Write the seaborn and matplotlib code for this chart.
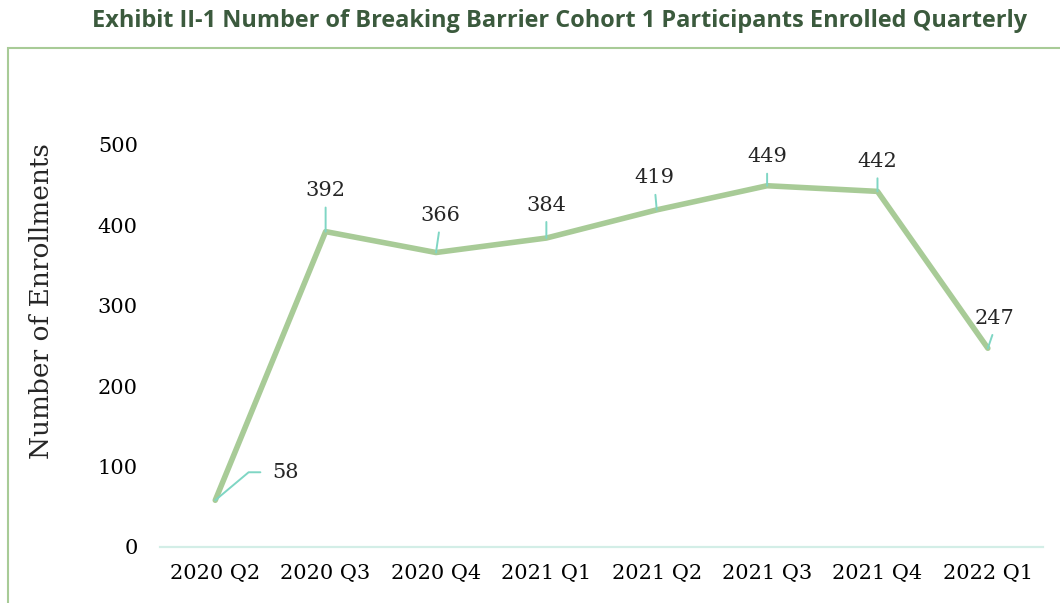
import pandas as pd
import matplotlib
matplotlib.use('Agg')
import matplotlib.pyplot as plt
from matplotlib.patches import Rectangle
import seaborn as sns

quarters = ['2020 Q2', '2020 Q3', '2020 Q4', '2021 Q1',
            '2021 Q2', '2021 Q3', '2021 Q4', '2022 Q1']
enrollments = [58, 392, 366, 384, 419, 449, 442, 247]
y_ticks = [0, 100, 200, 300, 400, 500]

# label offsets in pixels (dx, dy) from each point
label_offsets = [(70, 28), (0, 41), (4, 37), (0, 33), (-2, 32), (0, 29), (0, 30), (7, 30)]

LINE_GREEN = '#a8cb97'
LEADER = '#7fd6c4'
TITLE_GREEN = '#3b5a3d'


def make_plot():
    sns.set_theme(style='white')
    plt.rcParams['font.family'] = ['DejaVu Serif']

    df = pd.DataFrame({'quarter': quarters, 'enrollments': enrollments})

    fig = plt.figure(figsize=(10.6, 6.03), dpi=100)
    ax = fig.add_axes([0.151, 0.093, 0.833, 0.667])

    sns.lineplot(data=df, x='quarter', y='enrollments', ax=ax, color=LINE_GREEN,
                 linewidth=4, sort=False, solid_capstyle='round', solid_joinstyle='round')

    for i, (q, v) in enumerate(zip(quarters, enrollments)):
        dx, dy = label_offsets[i]
        if i == 0:
            ax.annotate(str(v), xy=(i, v), xytext=(dx, dy), textcoords='offset pixels',
                        ha='center', va='center', fontsize=15,
                        arrowprops=dict(arrowstyle='-', color=LEADER, lw=1.4,
                                        connectionstyle='angle,angleA=0,angleB=40,rad=0',
                                        relpos=(0, 0.5), shrinkA=6, shrinkB=0))
        else:
            ax.annotate(str(v), xy=(i, v), xytext=(dx, dy), textcoords='offset pixels',
                        ha='center', va='center', fontsize=15,
                        arrowprops=dict(arrowstyle='-', color=LEADER, lw=1.4,
                                        relpos=(0.5, 0), shrinkA=3, shrinkB=0))

    ax.set_xlim(-0.5, len(quarters) - 0.5)
    ax.set_ylim(0, 500)
    ax.set_yticks(y_ticks)
    ax.tick_params(axis='both', length=0, labelsize=15, colors='black')
    ax.tick_params(axis='y', pad=16)
    ax.tick_params(axis='x', pad=12)
    ax.set_xlabel('')
    ax.set_ylabel('')
    for side in ['top', 'right', 'left']:
        ax.spines[side].set_visible(False)
    ax.spines['bottom'].set_color('#d3eee7')
    ax.spines['bottom'].set_linewidth(1.6)

    fig.text(0.0396, 0.5, 'Number of Enrollments', rotation=90, ha='center', va='center',
             fontsize=19)

    fig.text(0.528, 0.965, 'Exhibit II-1 Number of Breaking Barrier Cohort 1 Participants Enrolled Quarterly',
             ha='center', va='center', fontsize=16.9, fontweight='bold', color=TITLE_GREEN,
             family=['Open Sans', 'DejaVu Sans'])

    fig.patches.append(Rectangle((8 / 1060, -0.1), 2, 0.92 + 0.1, transform=fig.transFigure,
                                 fill=False, edgecolor=LINE_GREEN, linewidth=1.5))

    fig.savefig('out.png', dpi=100)
    plt.close(fig)


if __name__ == '__main__':
    make_plot()
